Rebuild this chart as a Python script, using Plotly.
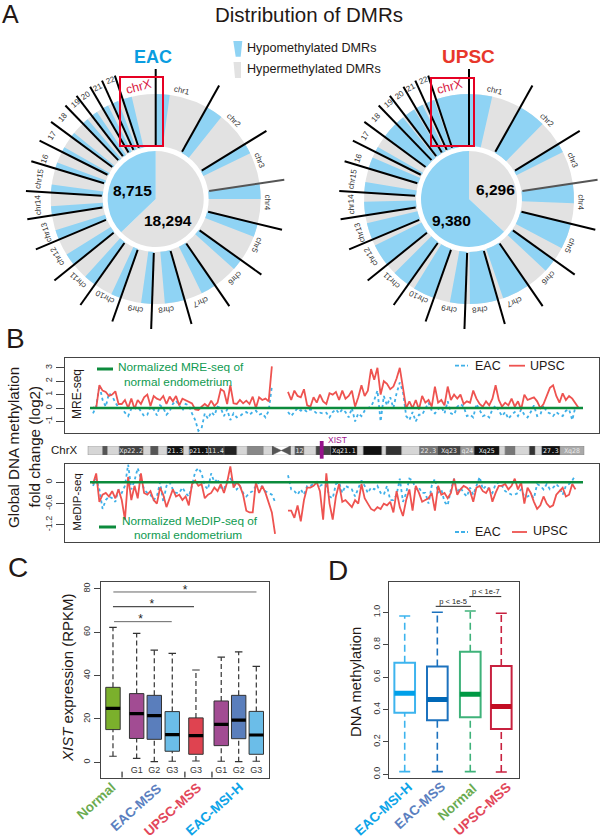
import math
import plotly.graph_objects as go

W, H = 600, 838
FONT = "Liberation Sans"

# panel A: chromosome sectors, in degrees clockwise from the top
CHR_LABELS = ["chr1", "chr2", "chr3", "chr4", "chr5", "chr6", "chr7", "chr8", "chr9", "chr10", "chr11", "chr12",
              "chr13", "chr14", "chr15", "16", "17", "18", "19", "20", "21", "22"]
CHR_START = [0, 29.2, 58.4, 81.5, 103.7, 125.6, 145.5, 164, 182, 199.5, 215.4, 231.2, 247.2, 261, 273.5, 286.9,
             296.7, 306.4, 316, 322.5, 329.7, 335.6, 341.7, 360]
EAC_HYPO = [7.7, 9.5, 5.8, 8.5, 7.3, 6.2, 8.5, 11, 6, 5.5, 6.8, 6.9, 5.5, 5, 4.5, 3.4, 2.8, 2.6, 3.5, 3.5, 3.3, 3.4, 5.1]
UPSC_HYPO = [12.8, 15.3, 5, 10.8, 14.3, 7.5, 15.5, 15.5, 8.5, 12.1, 9.8, 12.5, 9.4, 7.5, 5.8, 6.4, 3, 9, 5, 6, 4, 5, 18.3]
LABEL_ANGLE = [13.4, 44.8, 69.5, 91.7, 114.8, 135, 156.6, 174.7, 190.6, 207.4, 223.9, 239.8, 253.3, 267.4, 280, 290,
               301.4, 311.3, 320, 326, 332.5, 339]
LABEL_R = [112, 111, 111, 112, 111, 112, 112, 111.5, 112, 110, 112, 114, 114, 118, 118, 118, 121, 124, 125, 125, 126, 127]
# pie shares as drawn in the picture: hyper, hypo
EAC_PIE = [226, 134]
UPSC_PIE = [133, 227]

# panel B: fold change per bin, p arm and q arm of chrX
MRE_UPSC_P = [0.05, 0.0, 1.7, 1.3, 1.2, 0.9, 1.0, 1.25, 0.3, 0.3, 0.6, 0.0, 0.7, -0.05, 0.6, 0.3, 0.8, 1.0, 0.15, 0.9,
              0.7, 0.6, 0.9, 0.3, 0.85, 0.5, 0.9, 0.2, 0.7, 0.6, 0.5, 0.35, -0.1, -0.15, 0.1, 0.3, 0.1, 0.55, 0.15,
              0.4, 1.4, 1.25, 0.3, 1.7, 0.35, 0.3, 0.6, 0.35, 0.55, 0.3, 0.85, 0.0, 0.8, 0.6, 0.7, 0.5, 3.1]
MRE_EAC_P = [-0.4, 0.1, 1.7, 0.6, 0.1, 1.1, 0.9, 0.4, 0.05, 0.0, -0.35, -0.6, -0.05, -0.1, 0.1, -0.3, -0.6, -0.5, 0.1,
             -0.1, -0.55, 0.2, 0.0, -0.5, -0.25, 0.3, 0.55, 0.2, -0.2, 0.3, 0.2, -0.4, -0.9, -1.7, -1.5, -0.4, -0.8,
             -0.3, -0.55, 0.1, 0.0, -0.6, -0.1, -0.9, -0.4, -0.7, -0.6, -0.4, -0.3, -0.5, -0.3, -0.2, -0.5, -0.4,
             -0.7, -0.2, 1.6]
MRE_UPSC_Q = [1.2, 0.6, 1.3, 0.9, 0.8, 1.4, 0.2, 0.1, 0.8, 0.4, 1.0, 0.5, 0.3, 1.1, 1.0, 1.2, 0.6, 1.3, 0.7, 0.9, 1.3,
              0.1, 0.8, 1.7, 0.9, 1.3, 2.9, 2.1, 3.0, 1.0, 2.0, 1.8, 1.4, 1.6, 2.2, 3.0, 1.5, 0.0, 0.5, 0.0, 0.6, -0.1,
              0.9, 0.4, 0.6, 0.1, 1.6, 0.4, 0.6, 0.2, 1.6, 0.6, 1.0, 0.7, 1.0, 0.3, 0.5, 0.4, 1.3, 0.7, 0.3, 0.1, 0.5,
              0.2, 0.7, 1.7, 0.6, 0.1, 0.4, 0.2, 0.7, 0.1, 0.5, -0.1, 1.0, 0.6, 0.7, 0.8, 0.5, 0.0, 0.3, 0.9, 1.5, 1.7,
              0.9, 0.4, 1.1, 0.6, 0.9, 0.7, 0.3, 0.0]
MRE_EAC_Q = [-0.3, -0.6, -0.3, 0.0, -0.2, -0.1, -0.3, -0.1, -0.2, -0.4, -0.35, -0.4, -0.35, -0.7, -0.3, -0.1, -0.4,
             -0.1, -0.3, -0.7, 0.0, -1.0, -0.4, -0.6, -0.2, 0.0, 0.1, 0.6, 1.3, -1.0, 0.9, 0.2, 0.8, 0.0, 1.1, 1.9,
             1.2, -0.6, -0.9, -0.3, -1.0, -0.5, -0.5, 0.0, 0.4, -0.2, -0.4, -0.1, 0.1, -0.4, 0.5, -0.4, -0.5, 0.1, 0.3,
             0.1, -0.6, -0.5, -0.7, 0.3, -0.1, -0.6, -0.5, -0.7, -0.1, 0.2, -0.2, -0.6, -0.3, -0.8, -0.5, -0.3, -0.6,
             -0.1, -0.5, -0.7, -0.3, 0.2, -0.6, -0.5, 0.2, -0.3, -0.4, -0.6, -0.3, -0.5, -0.6, -0.2, -0.1, -0.9, 0.1]
MEDIP_UPSC_P = [-0.05, 0.25, -0.55, -0.35, -0.3, -0.4, -0.25, -0.45, -0.2, -0.5, -1.05, 0.15, -0.5, -0.1, -0.45, 0.25,
                -0.3, -0.35, -0.25, -0.5, -0.6, -0.15, -0.35, -0.7, -0.45, -0.2, -0.4, -0.35, -0.5, -0.4, -0.65, -0.05,
                0.05, -0.1, -0.05, -0.45, -0.35, -0.3, -0.15, -0.25, -0.05, -0.3, 0.0, 0.45, -0.15, 0.0, -0.1, -0.35,
                -0.8, -0.85, -0.85, 0.0, -0.3, -0.1, -0.3, -0.6, -0.85, -1.45]
MEDIP_EAC_P = [-0.1, 0.1, -0.2, -0.75, -0.5, -0.4, -0.45, -0.55, -0.2, -0.3, -0.1, 0.5, -0.2, 0.05, 0.4, 0.1, -0.2,
               -0.3, -0.35, -0.5, -0.4, 0.0, -0.55, -0.1, 0.0, -0.2, -0.3, -0.3, -0.15, -0.3, -0.4, -0.1, 0.3, 0.4,
               0.25, -0.1, -0.2, 0.25, 0.0, 0.1, -0.15, -0.2, 0.05, 0.1, 0.0, -0.2, -0.1, -0.3, -0.4, -0.3, -0.25,
               -0.1, 0.0, -0.15, -0.25, -0.3, -0.35, -0.55]
MEDIP_UPSC_Q = [-0.8, -0.8, -1.0, -0.65, -1.1, -0.5, -0.15, -0.15, -0.1, 0.0, -0.25, -1.05, 0.25, -0.6, -1.05, -0.4,
                -0.05, -0.55, -0.5, -0.6, -0.7, -0.5, -0.6, -0.05, -0.45, -0.6, -0.75, -0.8, -0.7, -0.75, -0.6, -0.65,
                -0.55, -0.85, -0.25, -0.7, -0.95, -0.5, -0.2, -0.8, -0.1, -0.3, -0.55, -0.5, -0.45, -0.3, -0.8, -0.1,
                -0.35, -0.3, -0.45, -0.3, 0.1, -0.35, -0.2, -0.1, -0.15, -0.25, -0.55, -0.15, -0.1, -0.25, -0.3, -0.15,
                -0.55, -0.3, -0.1, -0.1, -0.05, -0.2, -0.1, 0.1, -0.2, 0.0, -0.6, -0.15, -0.3, -0.55, -0.75, -0.65,
                -0.4, -0.6, -0.7, -0.65, -0.35, -0.25, -0.15, -0.4, -0.35, -0.05, -0.2]
MEDIP_EAC_Q = [0.2, -0.2, -0.25, -0.35, -0.2, -0.35, -0.1, -0.1, -0.05, 0.0, -0.1, -0.05, -0.1, -0.4, -0.45, -0.05, 0.0,
               -0.3, -0.1, -0.15, -0.2, -0.4, -0.15, 0.05, -0.1, -0.3, -0.15, -0.2, -0.1, -0.3, -0.35, -0.1, -0.5, -0.5,
               -0.35, 0.1, -0.55, -0.3, 0.1, 0.05, -0.2, -0.15, -0.3, -0.3, -0.6, -0.1, 0.1, -0.3, -0.2, -0.55, -0.65,
               -0.2, 0.1, -0.3, -0.15, -0.3, -0.4, -0.15, -0.35, -0.1, 0.15, -0.2, -0.1, -0.2, -0.3, -0.05, 0.0, -0.1,
               -0.25, -0.3, -0.35, -0.35, -0.3, -0.2, -0.4, -0.4, -0.35, -0.45, -0.05, -0.1, -0.2, -0.05, -0.2, -0.15,
               -0.05, -0.15, -0.35, -0.1, -0.05, 0.05, 0.2]

# ideogram bands in Mb
BAND_EDGES = [0, 4.6, 6.1, 9.8, 17.3, 19.6, 22, 24.8, 29.9, 31.7, 37.7, 42.6, 46.6, 49.9, 54.9, 58, 63, 64.8, 67.6, 71.4,
              76, 84.3, 86.2, 92, 93.3, 98.2, 103.8, 109.4, 116.7, 120.9, 128.8, 130.6, 133.7, 138.2, 140, 142.1, 147.8, 155.3]
BAND_COLORS = ["#d6d6d6", "#555555", "#d6d6d6", "#444444", "#d6d6d6", "#555555", "#d6d6d6", "#111111", "#d6d6d6", "#111111",
               "#333333", "#222222", "#d6d6d6", "#888888", "#d6d6d6", "#ffffff", "#d6d6d6", "#555555", "#d6d6d6", "#444444",
               "#111111", "#d6d6d6", "#111111", "#d6d6d6", "#333333", "#d6d6d6", "#777777", "#444444", "#999999", "#111111",
               "#d6d6d6", "#777777", "#d6d6d6", "#333333", "#d6d6d6", "#111111", "#aaaaaa"]
BAND_TEXT = ["", "", "", "Xp22.2", "", "", "", "21.3", "", "p21.1", "11.4", "", "", "", "", "", "", "12", "", "",
             "Xq21.1", "", "", "", "", "", "22.3", "Xq23", "q24", "Xq25", "", "", "", "", "", "27.3", "Xq28"]

# panel C
C_POS = [1, 2.33, 3.32, 4.33, 5.66, 7.08, 8.06, 9.05]
C_LOW = [2.8, 1.8, 0.3, 0.5, 0.6, 0.5, 0.3, 0.5]
C_Q1 = [15.1, 11, 10.6, 5.1, 3.7, 7.7, 10.9, 3.7]
C_MED = [24.9, 22.5, 21.5, 12.8, 12.3, 17.5, 19.5, 12.6]
C_Q3 = [34.6, 31.7, 30.9, 23.4, 20.5, 28.3, 30.9, 23.5]
C_UP = [62.3, 59.5, 51.8, 50.3, 42.6, 48.5, 51, 44.3]
C_COLORS = ["#7bb02c", "#a24c93", "#5a7ebc", "#6bbde8", "#df4350", "#a24c93", "#5a7ebc", "#6bbde8"]
C_GRADES = ["", "G1", "G2", "G3", "G3", "G1", "G2", "G3"]
C_GROUP_TICKS = [1.51, 5.04, 6.56]

# panel D
D_POS = [1, 2.01, 3.03, 3.99]
D_LOW = [0.016, 0.016, 0.016, 0.014]
D_Q1 = [0.379, 0.333, 0.352, 0.28]
D_MED = [0.5, 0.461, 0.494, 0.418]
D_Q3 = [0.689, 0.665, 0.757, 0.669]
D_UP = [0.977, 1.0, 1.008, 0.994]
D_LINES = ["#3db4ee", "#1c72be", "#3fb27a", "#c8213f"]
D_MEDIANS = ["#00a0e9", "#0068b7", "#009944", "#c30d23"]


def X(px):
    return px / W


def Y(py):
    return 1 - py / H


annotations = []
shapes = []


def txt(px, py, text, size, color="#231815", angle=0, bold=False):
    if bold:
        text = "<b>" + text + "</b>"
    annotations.append(dict(x=X(px), y=Y(py), xref="paper", yref="paper", text=text, showarrow=False,
                            xanchor="center", yanchor="middle", textangle=angle,
                            font=dict(family=FONT, size=size, color=color)))


def seg(x0, y0, x1, y1, color, width, dash="solid"):
    shapes.append(dict(type="line", xref="paper", yref="paper", x0=X(x0), y0=Y(y0), x1=X(x1), y1=Y(y1),
                       line=dict(color=color, width=width, dash=dash)))


def poly(points, color):
    path = "M " + " L ".join(f"{X(a):.5f} {Y(b):.5f}" for a, b in points) + " Z"
    shapes.append(dict(type="path", xref="paper", yref="paper", path=path, fillcolor=color, line=dict(width=0)))


fig = go.Figure()

# ---- A
BLUE = "#8fd3f4"
GREY = "#e2e2e2"
RING_IN, RING_OUT = 53, 105
R_MAX = 131
starts = CHR_START[:-1]
sweeps = [b - a for a, b in zip(CHR_START[:-1], CHR_START[1:])]


def add_wheel(name, cx, cy, hypo, pie, title, title_color, title_pos, title_size, box, nums):
    fig.add_trace(go.Barpolar(r=[RING_OUT - RING_IN] * len(starts), base=[RING_IN] * len(starts),
                              theta=[a + s / 2 for a, s in zip(starts, sweeps)], width=sweeps,
                              marker=dict(color=GREY, line=dict(width=0)), subplot=name))
    fig.add_trace(go.Barpolar(r=[RING_OUT - RING_IN] * len(starts), base=[RING_IN] * len(starts),
                              theta=[a + s / 2 for a, s in zip(starts, hypo)], width=hypo,
                              marker=dict(color=BLUE, line=dict(width=0)), subplot=name))
    th, rr = [], []
    for i, a in enumerate(starts):
        if i == 3:
            continue
        th += [a, a, None]
        rr += [54, 130, None]
    fig.add_trace(go.Scatterpolar(r=rr, theta=th, mode="lines", line=dict(color="black", width=2), subplot=name))
    fig.add_trace(go.Scatterpolar(r=[54, 130], theta=[starts[3], starts[3]], mode="lines",
                                  line=dict(color="#555555", width=2), subplot=name))
    fig.add_trace(go.Pie(values=pie, marker=dict(colors=[GREY, BLUE], line=dict(width=0)), sort=False,
                         direction="clockwise", rotation=0, textinfo="none", hoverinfo="skip",
                         domain=dict(x=[X(cx - 48), X(cx + 48)], y=[Y(cy + 48), Y(cy - 48)])))
    polar = dict(domain=dict(x=[X(cx - R_MAX), X(cx + R_MAX)], y=[Y(cy + R_MAX), Y(cy - R_MAX)]),
                 bgcolor="rgba(0,0,0,0)", barmode="overlay",
                 radialaxis=dict(visible=False, range=[0, R_MAX]),
                 angularaxis=dict(visible=False, rotation=90, direction="clockwise"))
    fig.update_layout({name: polar})
    for lab, ang, rad in zip(CHR_LABELS, LABEL_ANGLE, LABEL_R):
        t = math.radians(ang)
        txt(cx + rad * math.sin(t), cy - rad * math.cos(t), lab, 8, "#333333", angle=ang)
    txt(title_pos, 56.5, title, title_size, title_color, bold=True)
    shapes.append(dict(type="rect", xref="paper", yref="paper", x0=X(box[0]), x1=X(box[1]), y0=Y(box[2]), y1=Y(box[3]),
                       line=dict(color="#e60023", width=2), layer="above"))
    txt((box[0] + box[1]) / 2 - 3, 87.5, "chrX", 12.5, "#d7193f", angle=-15)
    for (a, b, s) in nums:
        txt(a, b, s, 15.5, "black", bold=True)


add_wheel("polar", 155.7, 199, EAC_HYPO, EAC_PIE, "EAC", "#0a9de0", 152.5, 18, (120, 163, 77, 146),
          [(132, 190.7, "8,715"), (168.3, 220.7, "18,294")])
add_wheel("polar2", 469, 199, UPSC_HYPO, UPSC_PIE, "UPSC", "#e8372b", 468.5, 19, (431, 474, 78, 146),
          [(495, 190, "6,296"), (451, 220.7, "9,380")])

txt(309, 15, "Distribution of DMRs", 20.5)
poly([(233.3, 41), (242.3, 41), (240.7, 56.7), (235.7, 56.7)], BLUE)
poly([(233.5, 62), (241, 62), (241, 78), (235, 78)], GREY)
txt(311.5, 48, "Hypomethylated DMRs", 12.6)
txt(314, 69, "Hypermethylated DMRs", 12.6)

# ---- B
PXMB = 3.194  # px per Mb along chrX
XR = [(65 - 88) / PXMB, (599 - 88) / PXMB]
P_START = (93 - 88) / PXMB
Q_START = (288 - 88) / PXMB


def arms(p_vals, q_vals):
    xs = [P_START + i for i in range(len(p_vals))] + [None] + [Q_START + i for i in range(len(q_vals))]
    ys = p_vals + [None] + q_vals
    return xs, ys


RED = "#ee5350"
DASH_BLUE = "#3fb0e8"
GREEN = "#0c8b3c"

for ax, eac_p, eac_q, upsc_p, upsc_q in [("", MRE_EAC_P, MRE_EAC_Q, MRE_UPSC_P, MRE_UPSC_Q),
                                         ("2", MEDIP_EAC_P, MEDIP_EAC_Q, MEDIP_UPSC_P, MEDIP_UPSC_Q)]:
    xs, ys = arms(eac_p, eac_q)
    fig.add_trace(go.Scatter(x=xs, y=ys, mode="lines", line=dict(color=DASH_BLUE, width=1.8, dash="3px,3px"),
                             xaxis="x" + ax, yaxis="y" + ax))
    xs, ys = arms(upsc_p, upsc_q)
    fig.add_trace(go.Scatter(x=xs, y=ys, mode="lines", line=dict(color=RED, width=1.8),
                             xaxis="x" + ax, yaxis="y" + ax))
    fig.add_trace(go.Scatter(x=[(90 - 88) / PXMB, (583 - 88) / PXMB], y=[0, 0], mode="lines",
                             line=dict(color=GREEN, width=2.6), xaxis="x" + ax, yaxis="y" + ax))

fig.add_trace(go.Bar(y=[0.5] * len(BAND_COLORS), base=BAND_EDGES[:-1],
                     x=[b - a for a, b in zip(BAND_EDGES[:-1], BAND_EDGES[1:])], orientation="h", width=1,
                     marker=dict(color=BAND_COLORS, line=dict(color="#777777", width=0.4)),
                     text=BAND_TEXT, textposition="inside", insidetextanchor="middle", constraintext="none",
                     insidetextfont=dict(family="DejaVu Sans Mono", size=6.5, color="#e8e8e8"),
                     textangle=0, xaxis="x3", yaxis="y3"))
fig.add_trace(go.Scatter(x=[57.6, 60.5, 63.4, 63.4, 60.5, 57.6], y=[1, 0.5, 1, 0, 0.5, 0], mode="lines", fill="toself",
                         fillcolor="#555555", line=dict(color="#555555", width=0.5), xaxis="x3", yaxis="y3"))

shapes.append(dict(type="rect", xref="paper", yref="paper", x0=X(319.8), x1=X(323.6), y0=Y(458.7), y1=Y(441),
                   fillcolor="#96128b", line=dict(width=0)))
txt(337, 440, "XIST", 8.5, "#a0158d")
txt(64.5, 450, "ChrX", 11.5)

seg(97, 369, 113, 369, GREEN, 3)
txt(181, 367, "Normalized MRE-seq of", 11.8, "#0e9a50")
txt(177.5, 381.5, "normal endometrium", 11.8, "#0e9a50")
seg(99, 527, 116, 527, GREEN, 3)
txt(190, 520.7, "Normalized MeDIP-seq of", 11.8, "#0e9a50")
txt(188, 535, "normal endometrium", 11.8, "#0e9a50")
seg(455, 365.7, 468, 365.7, DASH_BLUE, 1.8, "4px,2px")
seg(509, 365.7, 525, 365.7, RED, 1.8)
txt(488, 365.7, "EAC", 12.5)
txt(547.5, 365.7, "UPSC", 12.5)
seg(455, 532, 468, 532, DASH_BLUE, 1.8, "4px,2px")
seg(512, 532, 527, 532, RED, 1.8)
txt(488, 532, "EAC", 12.5)
txt(550.5, 531, "UPSC", 12.5)

txt(13.5, 447.5, "Global DNA methylation", 15.2, angle=-90)
txt(33.5, 447, "fold change (log2)", 15.2, angle=-90)
txt(77, 394, "MRE-seq", 12, angle=-90)
txt(77, 501.7, "MeDIP-seq", 11.5, angle=-90)
txt(15, 338.5, "B", 28)
txt(10, 14, "A", 25)
txt(18, 567.5, "C", 28)
txt(338, 570.5, "D", 28)

# line-ew markers come out 1.4 times their size across
LINE_EW = 1.4


# ---- C, D boxes
def add_boxes(ax, pos, low, q1, med, q3, up, fills, lines, med_colors, line_w, whisk_w, cap, med_w, width, box_px, dash):
    fig.add_trace(go.Bar(x=pos, base=q1, y=[b - a for a, b in zip(q1, q3)], width=width,
                         marker=dict(color=fills, line=dict(color=lines, width=line_w)),
                         xaxis="x" + ax, yaxis="y" + ax))
    for i, p in enumerate(pos):
        color = lines[i] if isinstance(lines, list) else lines
        fig.add_trace(go.Scatter(x=[p, p, None, p, p], y=[low[i], q1[i], None, q3[i], up[i]], mode="lines",
                                 line=dict(color=color, width=whisk_w, dash=dash), xaxis="x" + ax, yaxis="y" + ax))
        fig.add_trace(go.Scatter(x=[p, p], y=[low[i], up[i]], mode="markers",
                                 marker=dict(symbol="line-ew", size=cap / LINE_EW, line=dict(color=color, width=whisk_w)),
                                 xaxis="x" + ax, yaxis="y" + ax))
        fig.add_trace(go.Scatter(x=[p], y=[med[i]], mode="markers",
                                 marker=dict(symbol="line-ew", size=box_px / LINE_EW,
                                             line=dict(color=med_colors[i], width=med_w)),
                                 xaxis="x" + ax, yaxis="y" + ax))


add_boxes("4", C_POS, C_LOW, C_Q1, C_MED, C_Q3, C_UP, C_COLORS, "#333333", ["black"] * 8, 1, 1.2, 7.5, 3.2, 0.81, 14.4, "5px,3px")
add_boxes("5", D_POS, D_LOW, D_Q1, D_MED, D_Q3, D_UP, ["rgba(0,0,0,0)"] * 4, D_LINES, D_MEDIANS, 2, 1.6, 11, 5, 0.64, 20.7, "7px,4px")

fig.add_trace(go.Scatter(x=[C_POS[i] for i in range(8)], y=[-4] * 8, mode="text", text=C_GRADES,
                         textfont=dict(family=FONT, size=9, color="#333333"), xaxis="x4", yaxis="y4"))
gx, gy = [], []
for t in C_GROUP_TICKS:
    gx += [t, t, None]
    gy += [-7.1, -4.3, None]
fig.add_trace(go.Scatter(x=gx, y=gy, mode="lines", line=dict(color="black", width=1), xaxis="x4", yaxis="y4"))
for y0, x0, x1, col in [(78.6, 1.02, 9.06, "#666666"), (71.8, 1.0, 5.55, "#222222"), (64.9, 1.06, 4.3, "#666666")]:
    fig.add_trace(go.Scatter(x=[x0, x1], y=[y0, y0], mode="lines", line=dict(color=col, width=1), xaxis="x4", yaxis="y4"))
fig.add_trace(go.Scatter(x=[5.05, 3.18, 2.55], y=[78.9, 72.8, 65.8], mode="text", text=["*", "*", "*"],
                         textfont=dict(family=FONT, size=12, color="#222222"), xaxis="x4", yaxis="y4"))

for y0, x0, x1, label, lx in [(1.037, 1.96, 3.05, "p < 1e-5", 2.5), (1.097, 3.0, 3.99, "p < 1e-7", 3.51)]:
    fig.add_trace(go.Scatter(x=[x0, x1], y=[y0, y0], mode="lines", line=dict(color="#222222", width=1), xaxis="x5", yaxis="y5"))
    fig.add_trace(go.Scatter(x=[lx], y=[y0 + 0.027], mode="text", text=[label],
                             textfont=dict(family=FONT, size=7.5, color="#222222"), xaxis="x5", yaxis="y5"))

txt(67, 678, "<i>XIST</i> expression (RPKM)", 15, angle=-90)
txt(356, 682, "DNA methylation", 14.8, angle=-90)
for px, py, lab, col in [(97, 800.7, "Normal", "#6aab4f"), (136, 807.7, "EAC-MSS", "#5b7fc0"),
                         (172.7, 809.5, "UPSC-MSS", "#e2475a"), (214, 809.5, "EAC-MSI-H", "#0da4e8"),
                         (383, 809.5, "EAC-MSI-H", "#0da4e8"), (420, 805.7, "EAC-MSS", "#5b7fc0"),
                         (457, 802.3, "Normal", "#6aab4f"), (482, 809.5, "UPSC-MSS", "#e2475a")]:
    txt(px, py, lab, 13.5, col, angle=-42, bold=True)


def xframe(left, right, rng, anchor):
    return dict(domain=[X(left), X(right)], range=rng, anchor=anchor, showgrid=False, zeroline=False, showticklabels=False,
                ticks="", showline=True, mirror=True, linecolor="#444444", linewidth=1.2)


def yframe(top, bottom, rng, anchor, vals, labels, ticklen):
    return dict(domain=[Y(bottom), Y(top)], range=rng, anchor=anchor, showgrid=False, zeroline=False, tickvals=vals,
                ticktext=labels, tickangle=-90, ticks="outside", ticklen=ticklen, tickcolor="#444444",
                tickfont=dict(family=FONT, size=9, color="#333333"), showline=True, mirror=True,
                linecolor="#444444", linewidth=1.2)


fig.update_layout(
    width=W, height=H, margin=dict(l=0, r=0, t=0, b=0), paper_bgcolor="white", plot_bgcolor="rgba(0,0,0,0)",
    showlegend=False, barmode="overlay", font=dict(family=FONT), annotations=annotations, shapes=shapes,
    xaxis=xframe(65, 599, XR, "y"),
    yaxis=yframe(358, 432.7, [-1.84, 3.73], "x", [-1, 0, 1, 2, 3], ["-1", "0", "1", "2", "3"], 8),
    xaxis2=xframe(65, 599, XR, "y2"),
    yaxis2=yframe(464, 541.7, [-1.673, 0.515], "x2", [-1.2, -0.6, 0], ["-1.2", "-0.6", "0"], 8),
    xaxis3=dict(domain=[X(65), X(599)], range=XR, anchor="y3", visible=False),
    yaxis3=dict(domain=[Y(455), Y(446)], range=[0, 1], anchor="x3", visible=False),
    xaxis4=xframe(100.7, 269.3, [0.31, 9.78], "y4"),
    yaxis4=yframe(582, 777.7, [-7.1, 83.2], "x4", [0, 20, 40, 60, 80], ["0", "20", "40", "60", "80"], 6),
    xaxis5=xframe(389.3, 519.3, [0.523, 4.548], "y5"),
    yaxis5=yframe(581.7, 778.3, [-0.025, 1.189], "x5", [0, 0.2, 0.4, 0.6, 0.8, 1.0],
                  ["0.0", "0.2", "0.4", "0.6", "0.8", "1.0"], 5),
)

# the page keeps an 8px body margin otherwise, which pushes the figure off the window
fig.write_html("out.html", config={"displayModeBar": False}, post_script="document.body.style.margin='0';")
